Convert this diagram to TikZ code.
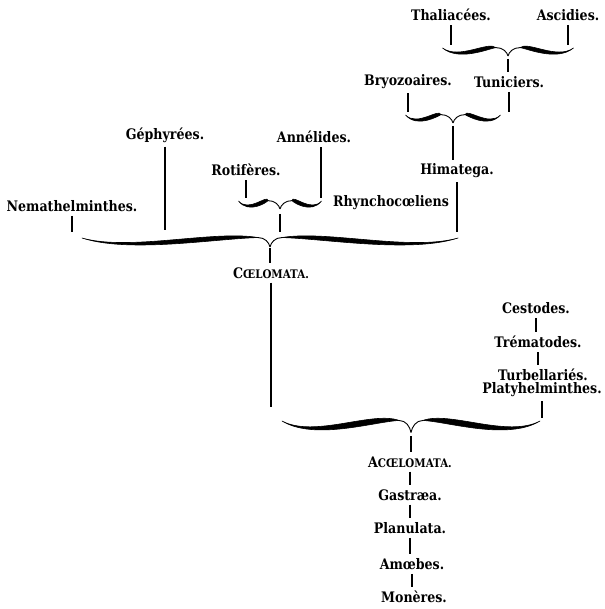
\documentclass[tikz,border=0pt]{standalone}
\usepackage{fontspec}
\setmainfont{DejaVu Serif}[FakeStretch=0.87]
\newcommand{\smc}[2]{#1{\fontsize{11.8}{13}\selectfont #2}}

\tikzset{
    pics/halfbrace/.style={code={
        \filldraw [line width=0.6pt, line join=round] ({-#1},0)
            .. controls ({-0.75*#1},15) and ({-0.3*#1},-9) .. (-12,-0.5)
            .. controls ({-0.3*#1},1) and ({-0.75*#1},17) .. cycle;
        \draw [line width=0.9pt] (-12,-0.5) .. controls (-5,-0.5) and (-1,5) .. (0,10);
    }}
}

\begin{document}
\begin{tikzpicture}[x=1pt,y=-1pt,
    lbl/.style={font=\fontsize{14.5}{16}\selectfont\bfseries, inner sep=1pt},
    link/.style={line width=1.1pt, shorten <=3pt, shorten >=3pt}]
    \useasboundingbox (0,0) rectangle (604,609);
    \node [lbl] (thal) at (451,15) {Thaliacées.};
    \node [lbl] (asci) at (568,15) {Ascidies.};
    \node [lbl] (bryo) at (408,82) {Bryozoaires.};
    \node [lbl] (tuni) at (509,82) {Tuniciers.};
    \node [lbl] (hima) at (457,171) {Himatega.};
    \node [lbl] (geph) at (165,135) {Géphyrées.};
    \node [lbl] (anne) at (314,137) {Annélides.};
    \node [lbl] (roti) at (246,170) {Rotifères.};
    \node [lbl] (rhyn) at (391,203) {Rhynchocœliens};
    \node [lbl] (nema) at (72,206) {Nemathelminthes.};
    \node [lbl] (coel) at (271,273) {\smc{C}{ŒLOMATA.}};
    \node [lbl] (cest) at (536,308) {Cestodes.};
    \node [lbl] (trem) at (538,342) {Trématodes.};
    \node [lbl] (turb) at (543,375) {Turbellariés.};
    \node [lbl] (plat) at (542,390) {Platyhelminthes.};
    \node [lbl] (acoe) at (410,462) {\smc{A}{CŒLOMATA.}};
    \node [lbl] (gast) at (410,495) {Gastræa.};
    \node [lbl] (plan) at (410,528) {Planulata.};
    \node [lbl] (amoe) at (412,564) {Amœbes.};
    \node [lbl] (mone) at (414,597) {Monères.};
    \coordinate (b1l) at (442,48);
    \coordinate (b1r) at (573,48);
    \coordinate (b1t) at (508,56);
    \coordinate (b2l) at (405,115);
    \coordinate (b2r) at (500,115);
    \coordinate (b2t) at (453,123);
    \coordinate (b3l) at (238,201);
    \coordinate (b3r) at (321,201);
    \coordinate (b3t) at (280,209);
    \coordinate (b4l) at (82,238);
    \coordinate (b4r) at (458,238);
    \coordinate (b4t) at (270,245);
    \coordinate (b5l) at (282,421);
    \coordinate (b5r) at (540,421);
    \coordinate (b5t) at (411,433);
    \pic [yscale=0.8] at (b1t |- b1l) {halfbrace=65.5};
    \pic [xscale=-1, yscale=0.8] at (b1t |- b1l) {halfbrace=65.5};
    \pic [yscale=0.8] at (b2t |- b2l) {halfbrace=47.5};
    \pic [xscale=-1, yscale=0.8] at (b2t |- b2l) {halfbrace=47.5};
    \pic [yscale=0.8] at (b3t |- b3l) {halfbrace=41.5};
    \pic [xscale=-1, yscale=0.8] at (b3t |- b3l) {halfbrace=41.5};
    \pic [yscale=0.9] at (b4t |- b4l) {halfbrace=188};
    \pic [xscale=-1, yscale=0.9] at (b4t |- b4l) {halfbrace=188};
    \pic [yscale=1.15] at (b5t |- b5l) {halfbrace=129};
    \pic [xscale=-1, yscale=1.15] at (b5t |- b5l) {halfbrace=129};
    \draw [link] (thal.south) -- (thal.south |- b1l);
    \draw [link] (asci.south) -- (asci.south |- b1r);
    \draw [link] (b1t) -- (b1t |- tuni.north);
    \draw [link] (bryo.south) -- (bryo.south |- b2l);
    \draw [link] (tuni.south) -- (tuni.south |- b2r);
    \draw [link] (b2t) -- (b2t |- hima.north);
    \draw [link, shorten >=6pt] (hima.south) -- (hima.south |- b4r);
    \draw [link, shorten >=8pt] (geph.south) -- (geph.south |- b4l);
    \draw [link] (anne.south -| b3r) -- (b3r);
    \draw [link] (roti.south) -- (roti.south |- b3l);
    \draw [link, shorten <=5pt, shorten >=6pt] (b3t) -- (b3t |- b4l);
    \draw [link, shorten >=6pt] (nema.south) -- (nema.south |- b4l);
    \draw [link] (b4t) -- (b4t |- coel.north);
    \draw [link, shorten >=14pt] (coel.south) -- (coel.south |- b5l);
    \draw [link] (cest.south) -- (cest.south |- trem.north);
    \draw [link] (trem.south) -- (trem.south |- turb.north);
    \draw [link] (plat.south) -- (plat.south |- b5r);
    \draw [link] (b5t) -- (b5t |- acoe.north);
    \draw [link] (acoe.south) -- (acoe.south |- gast.north);
    \draw [link] (gast.south) -- (gast.south |- plan.north);
    \draw [link] (plan.south) -- (plan.south |- amoe.north);
    \draw [link] (amoe.south) -- (amoe.south |- mone.north);
\end{tikzpicture}
\end{document}
